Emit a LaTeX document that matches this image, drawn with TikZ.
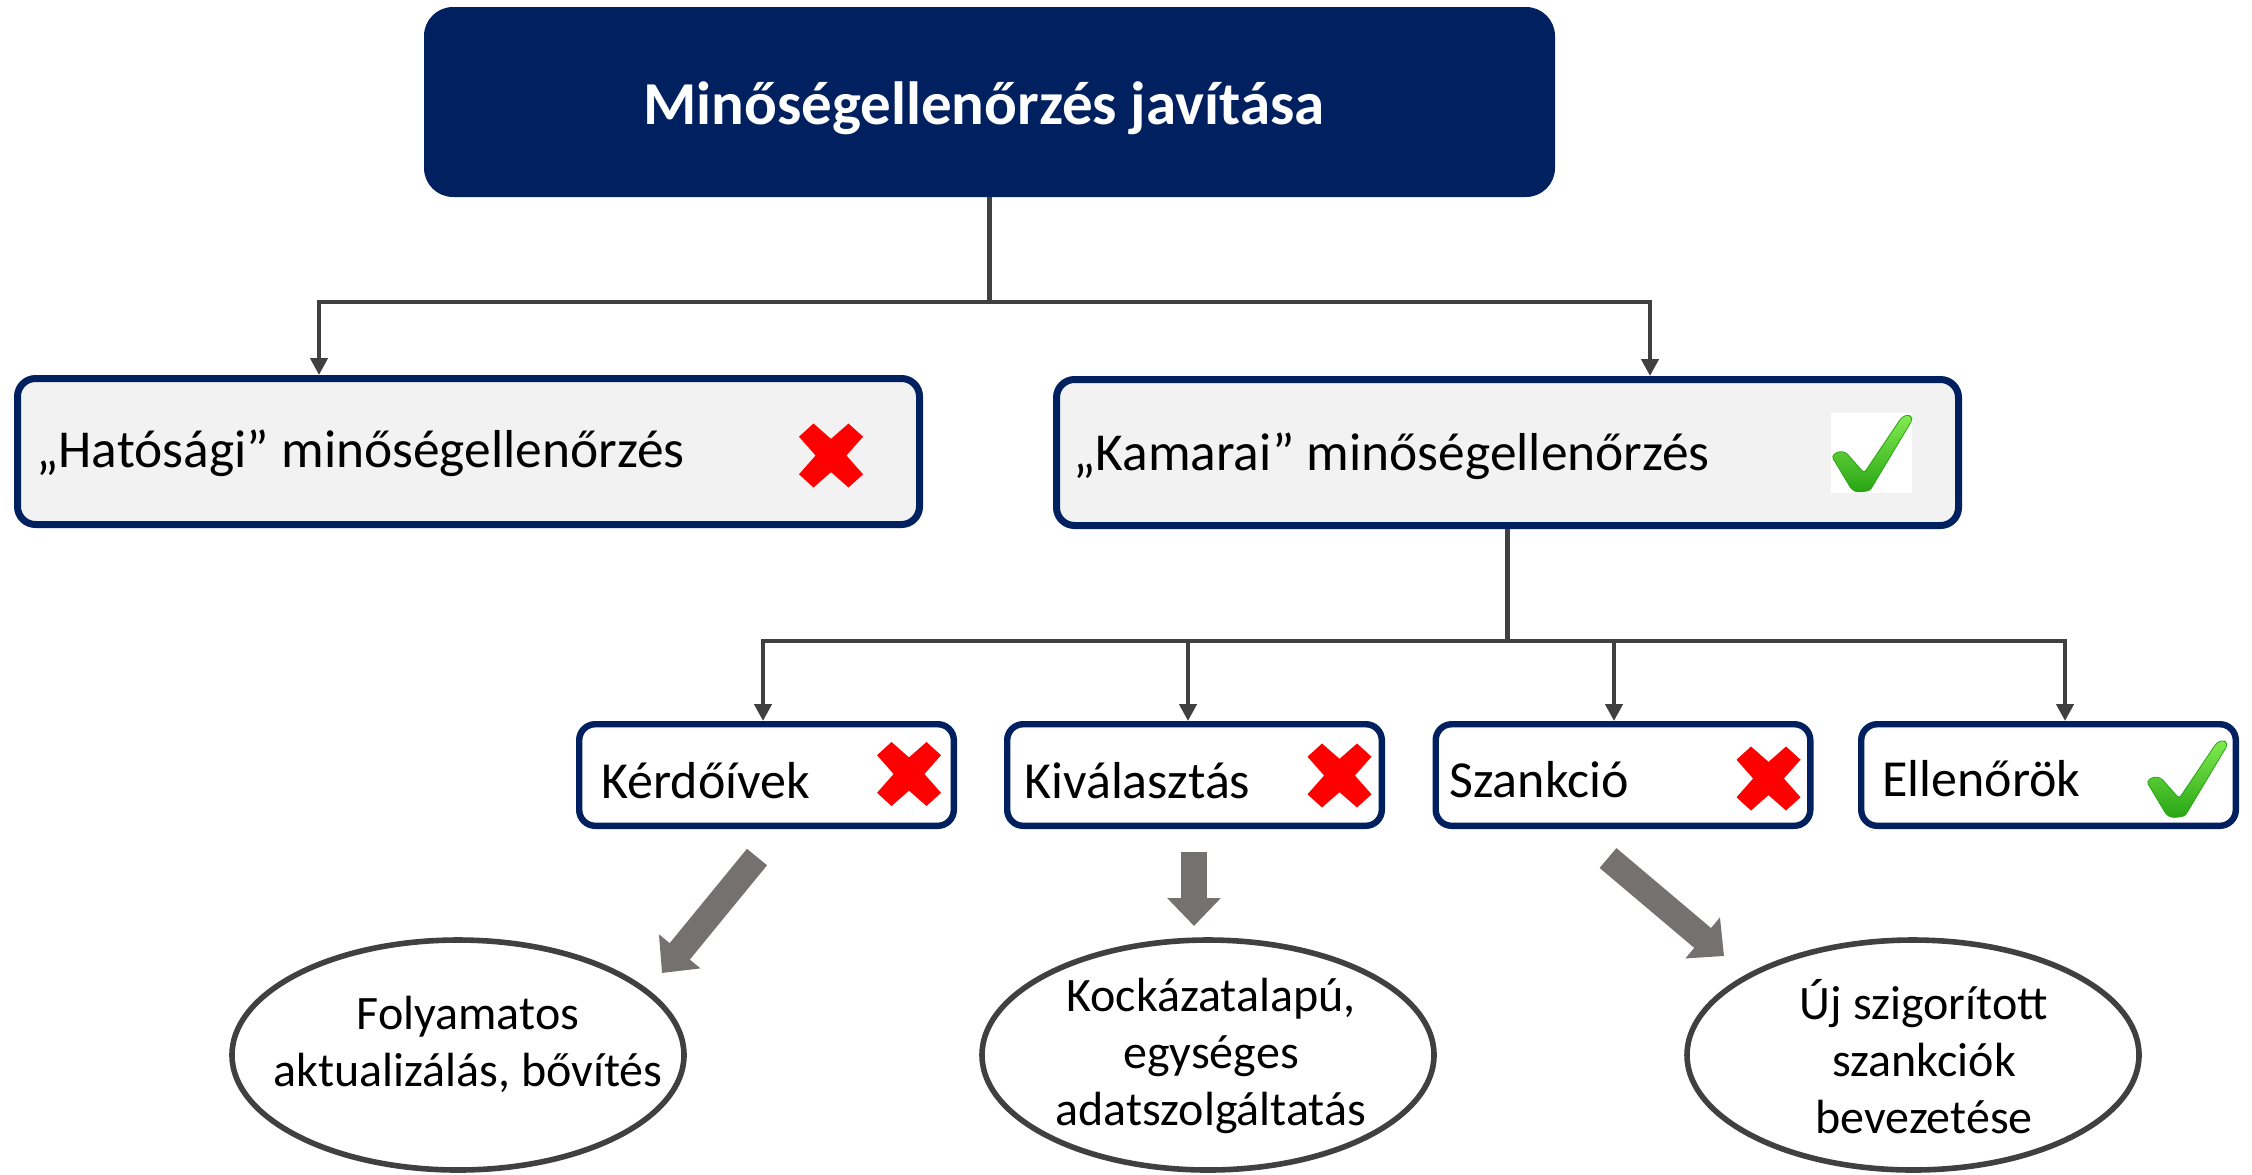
\documentclass[tikz,border=0pt]{standalone}
\usepackage{fontspec}
\setmainfont{Carlito}
\usetikzlibrary{arrows.meta,shapes.geometric}
\definecolor{navy}{HTML}{002060}
\definecolor{boxgray}{HTML}{F2F2F2}
\definecolor{connc}{HTML}{404040}
\definecolor{bigarrowc}{HTML}{767171}
\definecolor{xred}{HTML}{FF0000}
\definecolor{chklight}{RGB}{130,235,80}
\definecolor{chkdark}{RGB}{40,165,20}
\tikzset{
  topbox/.style={fill=navy, rounded corners=14.5pt, minimum width=565.5pt, minimum height=95pt, inner sep=0pt},
  lvtwo/.style={draw=navy, line width=3.5pt, fill=boxgray, rounded corners=9pt, minimum width=451pt, minimum height=73pt, inner sep=0pt},
  lvthree/.style={draw=navy, line width=3.2pt, fill=white, rounded corners=8pt, minimum width=187.3pt, minimum height=50.8pt, inner sep=0pt},
  boxlabel/.style={font=\fontsize{26}{31}\selectfont, anchor=base west, inner sep=0pt},
  bigboxlabel/.style={font=\fontsize{26.7}{32}\selectfont, anchor=base west, inner sep=0pt},
  titlelabel/.style={font=\bfseries\fontsize{30.5}{36}\selectfont, text=white, anchor=base, inner sep=0pt},
  link/.style={draw=connc, line width=2.4pt},
  linkarrow/.style={link, -{Triangle[length=8.5pt,width=8.5pt]}},
  bigarr/.style={draw=bigarrowc, line width=13pt, -{Triangle[length=14pt,width=26pt]}},
  oval/.style={ellipse, draw=connc, line width=2.8pt, fill=white, minimum width=226pt, minimum height=115pt, inner sep=0pt},
  ovaltext/.style={align=center, font=\fontsize{24}{28.5}\selectfont, inner sep=0pt},
  redx/.pic={\fill[xred] (-32,-18.8) -- (-17.5,-32) -- (0,-16.6) -- (17.5,-32) -- (32,-18.8) -- (15.4,0) -- (32,18.8) -- (17.5,32) -- (0,16.6) -- (-17.5,32) -- (-32,18.8) -- (-15.4,0) -- cycle;},
  greencheck/.pic={\shadedraw[top color=chklight, bottom color=chkdark, draw=chkdark, line width=0.4pt, rounded corners=1.5pt] (-39.8,3.2) -- (-33.6,-1.6) -- (-25.8,-0.8) -- (-7.4,20) -- (30.3,-36) -- (37.7,-38.4) -- (41,-33.6) -- (-1.6,37.6) -- (-13.9,39.2) -- (-19.7,36.8) -- cycle;}
}
\begin{document}
\begin{tikzpicture}[x=0.5pt,y=-0.5pt]
\useasboundingbox (0,0) rectangle (2252,1174);

% top
\node[topbox] (top) at (989.5,102) {};
\node[titlelabel] (ttl) at (984,124) {Minőségellenőrzés javítása};

% level 2
\node[lvtwo] (hat) at (468.5,451.5) {};
\node[bigboxlabel] (hatt) at (36,467) {„Hatósági” minőségellenőrzés};
\pic (xhat) at (831,455.5) {redx};

\node[lvtwo] (kam) at (1507.5,452.5) {};
\node[bigboxlabel] (kamt) at (1073,470) {„Kamarai” minőségellenőrzés};
\node[fill=white, minimum width=40.5pt, minimum height=40pt, inner sep=0pt] (kamchk) at (1871.5,453) {};
\pic (ckam) at (1871.5,453) {greencheck};

% level 3
\node[lvthree] (kerd) at (766.5,775) {};
\node[boxlabel] (kerdt) at (601,798) {Kérdőívek};
\pic (xkerd) at (909,774) {redx};

\node[lvthree] (kiv) at (1194.5,775) {};
\node[boxlabel] (kivt) at (1024,798) {Kiválasztás};
\pic (xkiv) at (1339.5,775.5) {redx};

\node[lvthree] (szank) at (1623,775) {};
\node[boxlabel] (szankt) at (1449,797) {Szankció};
\pic (xszank) at (1768.5,778.5) {redx};

\node[lvthree] (ell) at (2048.5,775) {};
\node[boxlabel] (ellt) at (1882,796) {Ellenőrök};
\pic (cell) at (2186.5,778.5) {greencheck};

% connectors
\coordinate (busA) at (985,302);
\draw[link] (top.south) -- (top.south |- busA);
\draw[linkarrow] (top.south |- busA) -| ([xshift=-74.75pt]hat.north);
\draw[linkarrow] (top.south |- busA) -| ([xshift=71.25pt]kam.north);

\coordinate (busB) at (1502,641);
\draw[link] (kam.south) -- (kam.south |- busB);
\draw[linkarrow] (kam.south |- busB) -| ([xshift=-1.75pt]kerd.north);
\draw[linkarrow] (kam.south |- busB) -| ([xshift=-3.25pt]kiv.north);
\draw[linkarrow] (kam.south |- busB) -| ([xshift=-4.5pt]szank.north);
\draw[linkarrow] (kam.south |- busB) -| ([xshift=8.25pt]ell.north);

% ellipses
\node[oval] (e1) at (458,1055) {};
\node[ovaltext] (e1t) at (468,1044) {Folyamatos\\aktualizálás, bővítés};
\node[oval] (e2) at (1208,1055) {};
\node[ovaltext] (e2t) at (1211,1056) {Kockázatalapú,\\egységes\\adatszolgáltatás};
\node[oval] (e3) at (1913,1055) {};
\node[ovaltext] (e3t) at (1924,1057) {Új szigorított\\szankciók\\bevezetése};

% big gray arrows
\coordinate (a1s) at (757,857);
\coordinate (a1e) at (662,973);
\draw[bigarr] (a1s) -- (a1e);
\coordinate (a2s) at (1194,852);
\coordinate (a2e) at (1194,926);
\draw[bigarr] (a2s) -- (a2e);
\coordinate (a3s) at (1608,858);
\coordinate (a3e) at (1724,956);
\draw[bigarr] (a3s) -- (a3e);
\end{tikzpicture}
\end{document}
